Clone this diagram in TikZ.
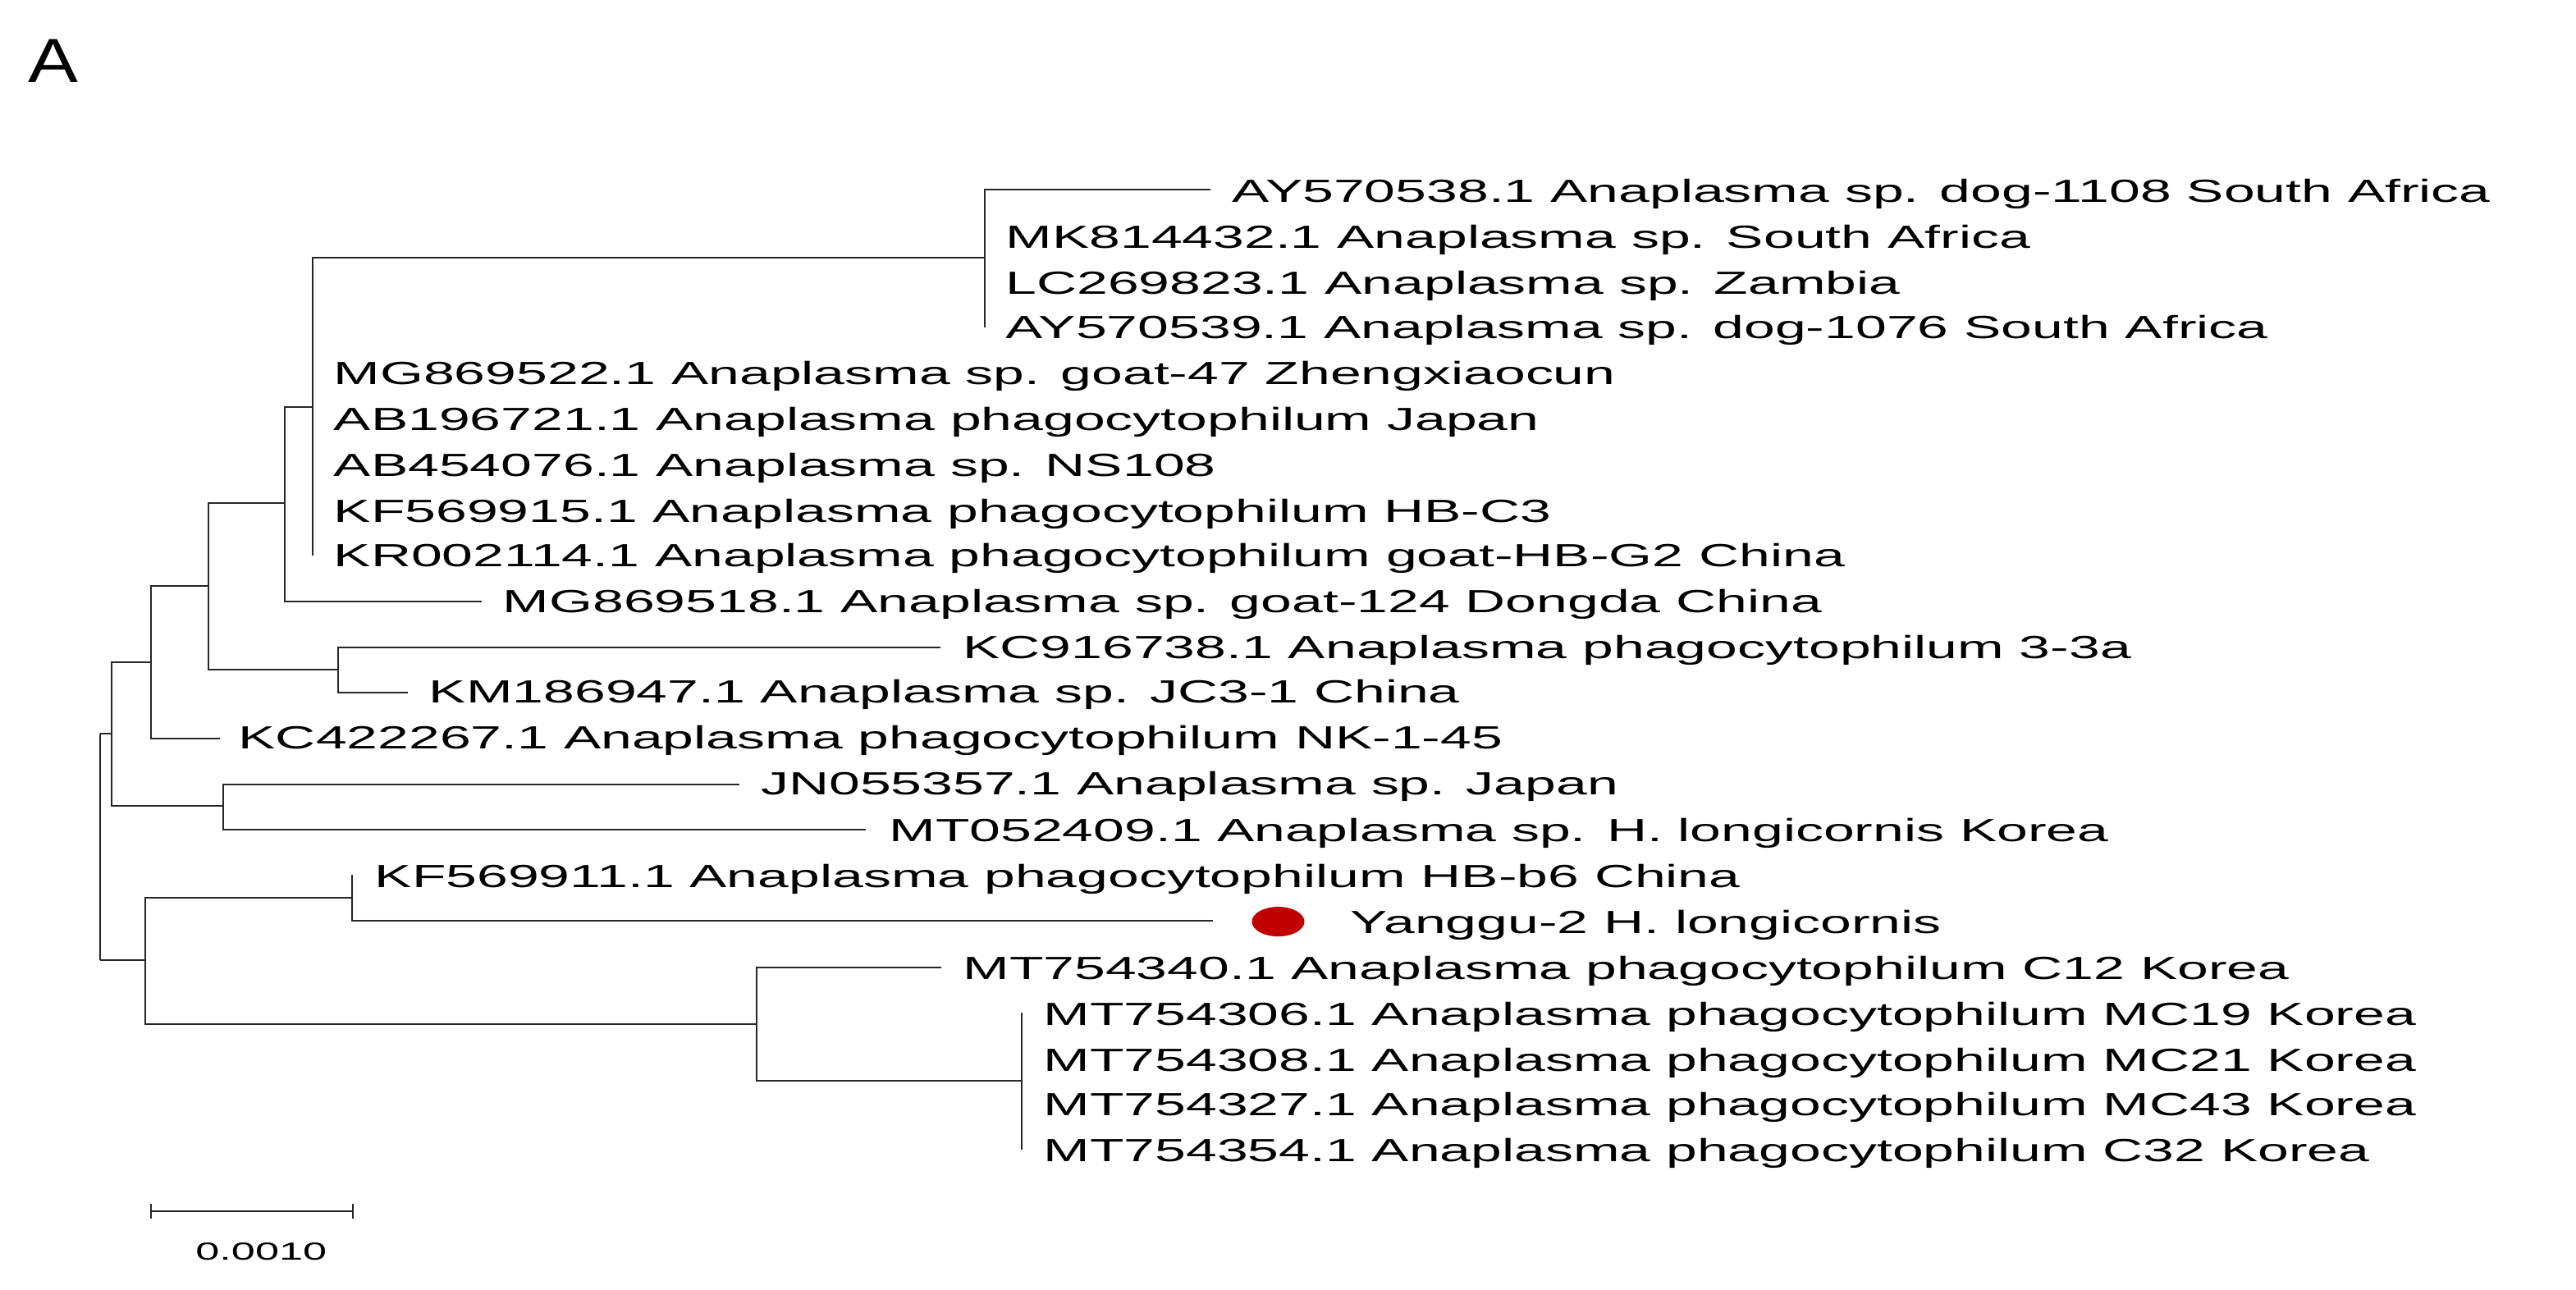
\documentclass[tikz,border=0pt]{standalone}
\usepackage{fontspec}
\setmainfont{Liberation Sans}
\newfontfamily\widefont[FakeStretch=1.74]{Liberation Sans}
\newfontfamily\afont[FakeStretch=1.2]{Liberation Sans}
\definecolor{dotred}{RGB}{192,0,0}
\begin{document}
\begin{tikzpicture}[x=1pt,y=-1pt,
  br/.style={line width=1pt,color=black!85},
  lab/.style={anchor=base west,inner sep=0pt,font=\widefont\fontsize{19.5}{20}\selectfont}]
\useasboundingbox[fill=white] (0,0) rectangle (1568,785);
\node[anchor=base west,inner sep=0pt,font=\afont\fontsize{38}{40}\selectfont] (A) at (17,50) {A};
% leaves
\newcommand{\leaf}[4]{\node[lab] (#1) at (#2,#3+7) {#4};}
\leaf{l1}{750}{116}{AY570538.1 Anaplasma sp. dog-1108 South Africa}
\leaf{l2}{612}{144}{MK814432.1 Anaplasma sp. South Africa}
\leaf{l3}{612}{172}{LC269823.1 Anaplasma sp. Zambia}
\leaf{l4}{612}{199}{AY570539.1 Anaplasma sp. dog-1076 South Africa}
\leaf{l5}{203}{227}{MG869522.1 Anaplasma sp. goat-47 Zhengxiaocun}
\leaf{l6}{203}{255}{AB196721.1 Anaplasma phagocytophilum Japan}
\leaf{l7}{203}{283}{AB454076.1 Anaplasma sp. NS108}
\leaf{l8}{203}{311}{KF569915.1 Anaplasma phagocytophilum HB-C3}
\leaf{l9}{203}{338}{KR002114.1 Anaplasma phagocytophilum goat-HB-G2 China}
\leaf{l10}{306}{366}{MG869518.1 Anaplasma sp. goat-124 Dongda China}
\leaf{l11}{586}{394}{KC916738.1 Anaplasma phagocytophilum 3-3a}
\leaf{l12}{261}{421}{KM186947.1 Anaplasma sp. JC3-1 China}
\leaf{l13}{145}{449}{KC422267.1 Anaplasma phagocytophilum NK-1-45}
\leaf{l14}{463}{477}{JN055357.1 Anaplasma sp. Japan}
\leaf{l15}{541}{505}{MT052409.1 Anaplasma sp. H. longicornis Korea}
\leaf{l16}{228}{533}{KF569911.1 Anaplasma phagocytophilum HB-b6 China}
\leaf{l17}{822}{561}{Yanggu-2 H. longicornis}
\leaf{l18}{586}{589}{MT754340.1 Anaplasma phagocytophilum C12 Korea}
\leaf{l19}{635}{617}{MT754306.1 Anaplasma phagocytophilum MC19 Korea}
\leaf{l20}{635}{645}{MT754308.1 Anaplasma phagocytophilum MC21 Korea}
\leaf{l21}{635}{672}{MT754327.1 Anaplasma phagocytophilum MC43 Korea}
\leaf{l22}{635}{700}{MT754354.1 Anaplasma phagocytophilum C32 Korea}
\fill[dotred] (778,561) ellipse [x radius=16,y radius=9];
% branches
\draw[br] (61,515) -- (61,584.6);
\draw[br] (61,446.8) -- (61,515);
\draw[br] (61,446.8) -- (68,446.8);
\draw[br] (61,584.6) -- (89,584.6);
% node A
\draw[br] (92,403) -- (68,403) -- (68,490.6) -- (136,490.6);
% node B
\draw[br] (127,356.6) -- (92,356.6) -- (92,449.6) -- (134,449.6);
% node C
\draw[br] (173.5,306.4) -- (127,306.4) -- (127,407.5) -- (205.6,407.5);
% node D
\draw[br] (190.3,247.9) -- (173.5,247.9) -- (173.5,366) -- (293.4,366);
% node E
\draw[br] (599.5,156.7) -- (190.3,156.7) -- (190.3,338.4);
% node F
\draw[br] (737,115.3) -- (599.5,115.3) -- (599.5,199.4);
% node G
\draw[br] (572.4,394) -- (205.6,394) -- (205.6,421.5) -- (248.5,421.5);
% node H
\draw[br] (450,477.6) -- (136,477.6) -- (136,505) -- (527,505);
% node I
\draw[br] (214.3,546.7) -- (88.3,546.7) -- (88.3,623.2) -- (460.7,623.2);
% node J
\draw[br] (214.3,532.7) -- (214.3,560.4) -- (738.3,560.4);
% node K
\draw[br] (573,588.8) -- (460.7,588.8) -- (460.7,658) -- (622,658);
% node L
\draw[br] (622,616.5) -- (622,700);
% scale bar
\draw[br] (92,737.5) -- (214.6,737.5);
\draw[br] (92,733) -- (92,742);
\draw[br] (214.6,733) -- (214.6,742);
\node[anchor=base,inner sep=0pt,font=\widefont\fontsize{15}{16}\selectfont] (sc) at (159,767) {0.0010};
\end{tikzpicture}
\end{document}
